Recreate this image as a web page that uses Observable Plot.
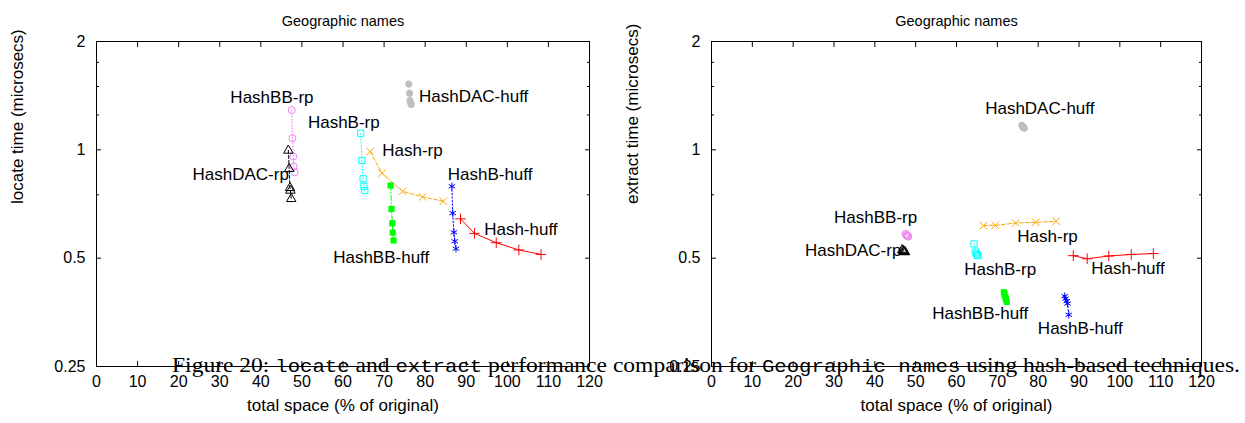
<!DOCTYPE html>
<html><head><meta charset="utf-8">
<script src="https://cdn.jsdelivr.net/npm/d3@7"></script>
<script src="https://cdn.jsdelivr.net/npm/@observablehq/plot@0.6"></script>
<style>
html,body{margin:0;padding:0;background:#fff;}
#wrap{position:relative;width:1245px;height:423px;overflow:hidden;background:#fff;}
#wrap .panel{position:absolute;top:0;}
#caption{position:absolute;left:0;top:0;pointer-events:none;}
</style></head><body>
<div id="wrap"></div>
<script>
// ---------- data ----------
const seriesNames   = ["Hash-huff","Hash-rp","HashB-huff","HashB-rp","HashBB-huff","HashBB-rp","HashDAC-huff","HashDAC-rp"];
const seriesColors  = ["#ff0000","#ffa500","#0000ff","#00ffff","#00ff00","#ee82ee","#bebebe","#000000"];
const seriesSymbols = ["plus","times","asterisk","square","square","circle","circle","triangle"];
const seriesFilled  = [false,false,false,false,true,false,true,false];
const seriesDash    = [null,"4,2","1.5,2","1,2","5,2,1,2","1,2","1,2","3,2"];

// total space (% of original)
const hashHuffSpace   = [88.6, 92.0, 97.3, 102.8, 108.2];
const hashRpSpace     = [66.6, 69.5, 74.5, 79.4, 84.4];
const hashBHuffSpace  = [86.5, 86.7, 87.0, 87.2, 87.5];
const hashBRpSpace    = [64.3, 64.6, 64.9, 65.1, 65.3];
const hashBBHuffSpace = [71.6, 71.8, 72.0, 72.1, 72.3];
const hashBBRpSpace   = [47.5, 47.7, 47.9, 48.0, 48.2];
const hashDACHuffSpace= [76.0, 76.2, 76.3, 76.5, 76.6];
const hashDACRpSpace  = [46.7, 46.9, 47.1, 47.2, 47.4];

// locate time (microsecs)
const hashHuffLocate   = [0.643, 0.586, 0.552, 0.527, 0.512];
const hashRpLocate     = [0.989, 0.861, 0.767, 0.740, 0.720];
const hashBHuffLocate  = [0.792, 0.667, 0.590, 0.557, 0.531];
const hashBRpLocate    = [1.112, 0.934, 0.831, 0.792, 0.771];
const hashBBHuffLocate = [0.796, 0.685, 0.625, 0.589, 0.560];
const hashBBRpLocate   = [1.290, 1.077, 0.958, 0.899, 0.866];
const hashDACHuffLocate= [1.525, 1.437, 1.371, 1.350, 1.336];
const hashDACRpLocate  = [0.996, 0.886, 0.784, 0.771, 0.731];

// extract time (microsecs)
const hashHuffExtract   = [0.508, 0.498, 0.507, 0.512, 0.515];
const hashRpExtract     = [0.616, 0.617, 0.626, 0.629, 0.633];
const hashBHuffExtract  = [0.392, 0.386, 0.380, 0.374, 0.348];
const hashBRpExtract    = [0.548, 0.520, 0.514, 0.510, 0.508];
const hashBBHuffExtract = [0.402, 0.396, 0.390, 0.384, 0.378];
const hashBBRpExtract   = [0.584, 0.580, 0.578, 0.576, 0.574];
const hashDACHuffExtract= [1.170, 1.163, 1.158, 1.153, 1.148];
const hashDACRpExtract  = [0.527, 0.524, 0.522, 0.521, 0.520];

// label positions (data coordinates)
const locateLabelX  = [103.3, 76.9, 95.8, 60.2, 69.3, 42.7, 91.8, 35.1];
const locateLabelY  = [0.599, 0.996, 0.852, 1.193, 0.503, 1.398, 1.409, 0.852];
const extractLabelX = [102.0, 82.3, 90.3, 70.7, 65.8, 40.2, 80.4, 34.7];
const extractLabelY = [0.467, 0.575, 0.318, 0.465, 0.351, 0.650, 1.300, 0.525];

// ticks
const xTicks  = [0,10,20,30,40,50,60,70,80,90,100,110,120];
const yMajor  = [0.25, 0.5, 1, 2];
const yMinor  = [0.75, 1.25, 1.5, 1.75];

const chartTitle = "Geographic names";
const xLabel = "total space (% of original)";
const captionParts = [
  ["Figure 20: ", false], ["locate", true], [" and ", false], ["extract", true],
  [" performance comparison for ", false], ["Geographic names", true],
  [" using hash-based techniques.", false]
];

const spaceArrs   = [hashHuffSpace, hashRpSpace, hashBHuffSpace, hashBRpSpace, hashBBHuffSpace, hashBBRpSpace, hashDACHuffSpace, hashDACRpSpace];
const locateArrs  = [hashHuffLocate, hashRpLocate, hashBHuffLocate, hashBRpLocate, hashBBHuffLocate, hashBBRpLocate, hashDACHuffLocate, hashDACRpLocate];
const extractArrs = [hashHuffExtract, hashRpExtract, hashBHuffExtract, hashBRpExtract, hashBBHuffExtract, hashBBRpExtract, hashDACHuffExtract, hashDACRpExtract];

// ---------- drawing ----------
const FONT = "'Liberation Sans', Arial, Helvetica, sans-serif";

function panel({yLabel, yArrs, labelX, labelY, width, marginLeft, marginRight}) {
  const marks = [];
  seriesNames.forEach((name, i) => {
    const rows = spaceArrs[i].map((x, j) => ({name, x, y: yArrs[i][j]}));
    marks.push(Plot.line(rows, {x: "x", y: "y", stroke: seriesColors[i], strokeWidth: 1,
      strokeDasharray: seriesDash[i] || undefined}));
    marks.push(Plot.dot(rows, {x: "x", y: "y", symbol: seriesSymbols[i], r: 3.5,
      stroke: seriesFilled[i] ? "none" : seriesColors[i],
      fill: seriesFilled[i] ? seriesColors[i] : "none", strokeWidth: 1}));
  });
  const labels = seriesNames.map((n, i) => ({n, x: labelX[i], y: labelY[i]}));
  return Plot.plot({
    width, height: 423,
    marginTop: 41, marginBottom: 57, marginLeft, marginRight,
    style: {fontFamily: FONT, fontSize: "16px", color: "black", background: "white"},
    x: {domain: [0, 120]},
    y: {type: "log", domain: [0.25, 2]},
    marks: [
      // tick labels
      Plot.axisX({ticks: xTicks, tickSize: 0, tickPadding: 9, label: null, fontSize: 16}),
      Plot.axisY({ticks: yMajor, tickSize: 0, tickPadding: 11, label: null, fontSize: 16,
        tickFormat: d => String(d)}),
      // inward ticks
      Plot.axisX({ticks: xTicks, anchor: "bottom", text: null, tickSize: 5, dy: -5, label: null}),
      Plot.axisX({ticks: xTicks, anchor: "top", text: null, tickSize: 5, dy: 5, label: null}),
      Plot.axisY({ticks: yMajor, anchor: "left", text: null, tickSize: 5, dx: 5, label: null}),
      Plot.axisY({ticks: yMajor, anchor: "right", text: null, tickSize: 5, dx: -5, label: null}),
      Plot.axisY({ticks: yMinor, anchor: "left", text: null, tickSize: 3, dx: 3, label: null}),
      Plot.axisY({ticks: yMinor, anchor: "right", text: null, tickSize: 3, dx: -3, label: null}),
      ...marks,
      Plot.text(labels, {x: "x", y: "y", text: "n", fontSize: 17, fill: "black"}),
      Plot.text([chartTitle], {frameAnchor: "top", dy: -26, fontSize: 14.5, fill: "black"}),
      Plot.text([xLabel], {frameAnchor: "bottom", dy: 44, fontSize: 17, fill: "black"}),
      Plot.text([yLabel], {frameAnchor: "left", dx: -79, rotate: -90, fontSize: 17, fill: "black"}),
      Plot.frame({stroke: "black", strokeWidth: 1})
    ]
  });
}

const wrap = document.getElementById("wrap");
const left = panel({yLabel: "locate time (microsecs)", yArrs: locateArrs, labelX: locateLabelX, labelY: locateLabelY,
  width: 622, marginLeft: 96, marginRight: 33});
left.classList.add("panel"); left.style.left = "0px";
wrap.appendChild(left);
const right = panel({yLabel: "extract time (microsecs)", yArrs: extractArrs, labelX: extractLabelX, labelY: extractLabelY,
  width: 623, marginLeft: 89, marginRight: 44});
right.classList.add("panel"); right.style.left = "622px";
wrap.appendChild(right);

// caption overlay
const NS = "http://www.w3.org/2000/svg";
const cap = document.createElementNS(NS, "svg");
cap.setAttribute("id", "caption");
cap.setAttribute("width", 1245); cap.setAttribute("height", 423);
const t = document.createElementNS(NS, "text");
t.setAttribute("x", 172); t.setAttribute("y", 372);
t.setAttribute("font-family", "'Liberation Serif', 'Times New Roman', serif");
t.setAttribute("font-size", 20.5);
t.setAttribute("textLength", 1068);
t.setAttribute("lengthAdjust", "spacingAndGlyphs");
t.setAttribute("fill", "black");
t.style.whiteSpace = "pre";
captionParts.forEach(([s, mono]) => {
  const ts = document.createElementNS(NS, "tspan");
  ts.textContent = s;
  if (mono) {
    ts.setAttribute("font-family", "'Liberation Mono', 'DejaVu Sans Mono', monospace");
    ts.setAttribute("font-size", 18);
  }
  t.appendChild(ts);
});
cap.appendChild(t);
wrap.appendChild(cap);
</script>
</body></html>
